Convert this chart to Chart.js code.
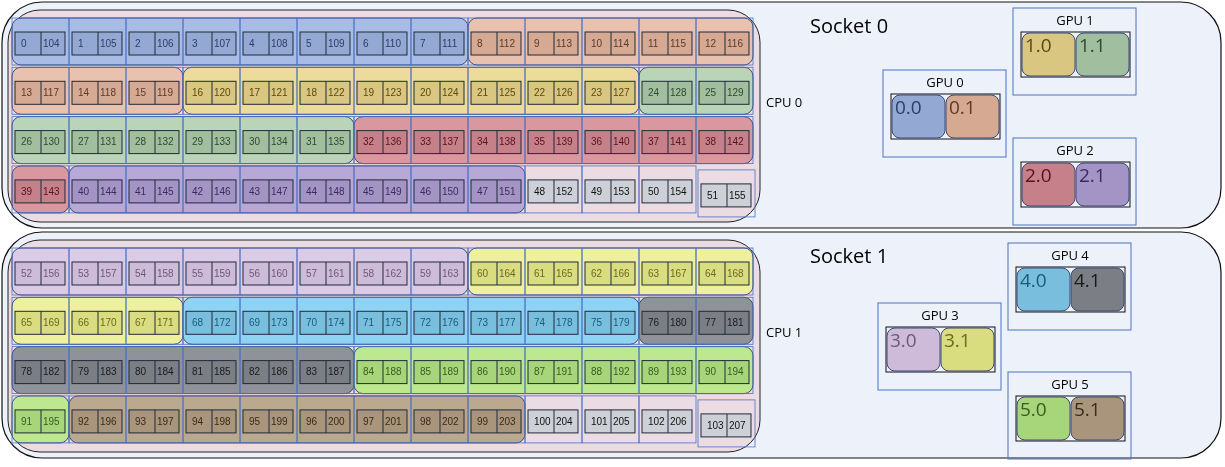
<!DOCTYPE html>
<html><head><meta charset="utf-8">
<script src="https://cdn.jsdelivr.net/npm/chart.js@4"></script>
<style>html,body{margin:0;padding:0;background:#fff}#wrap{width:1225px;height:467px}</style>
</head><body><div id="wrap"><canvas id="c"></canvas></div>
<script>
// Node layout: 2 sockets, 52 cores each (13 per row, 4 rows), hyperthread = core + 104
const sockets = ['Socket 0', 'Socket 1'];
const cpus = ['CPU 0', 'CPU 1'];
const coresPerSocket = 52;
const coresPerRow = 13;
const htOffset = 104;
// core groups (first core, last core) bound to a GCD
const groupFirst = [0, 8, 16, 24, 32, 40, 52, 60, 68, 76, 84, 92];
const groupLast = [7, 15, 23, 31, 39, 47, 59, 67, 75, 83, 91, 99];
const gcdLabels = ['0.0', '0.1', '1.0', '1.1', '2.0', '2.1', '3.0', '3.1', '4.0', '4.1', '5.0', '5.1'];
const groupFill = ['#a9bce6', '#e8c2ae', '#eddb9c', '#b9d4b6', '#d9979f', '#b8a8d8',
                   '#dccbe6', '#eef09d', '#8ed3f1', '#8f9298', '#bde890', '#bba98f'];
const coreFill = ['#93a8d3', '#d5a992', '#d9c680', '#a1bf9f', '#c6808a', '#a493c5',
                  '#cebbd9', '#dadc80', '#79bfdd', '#7b7e85', '#a7d67a', '#a8957c'];
const textCol = ['#2c3d66', '#5a3a2a', '#5a4a10', '#2e4a2c', '#5a1020', '#3c2c5e',
                 '#6a5a7a', '#6a6a20', '#1a5a7a', '#1a1a1a', '#3a5a20', '#3a2a1a'];
const gpuNames = ['GPU 0', 'GPU 1', 'GPU 2', 'GPU 3', 'GPU 4', 'GPU 5'];
const gpuBoxX = [883, 1013, 1013, 878, 1008, 1008];
const gpuBoxY = [70, 8, 138, 303, 243, 372];
const unassignedFill = '#cdd0d6';

function groupOf(core) {
  for (let g = 0; g < groupFirst.length; g++) if (core >= groupFirst[g] && core <= groupLast[g]) return g;
  return -1;
}

const S0 = 2, SH = 230;
function cellRect(core) {
  const s = Math.floor(core / coresPerSocket), i = core % coresPerSocket;
  const col = i % coresPerRow, row = Math.floor(i / coresPerRow);
  return { x: 12 + col * 57, y: S0 + s * SH + 16 + row * 49.3, w: 57, h: 47 };
}

function rr(ctx, x, y, w, h, r) {
  ctx.beginPath(); ctx.roundRect(x, y, w, h, r);
}

const layoutPlugin = {
  id: 'layout',
  afterDatasetsDraw(chart) {
    const ctx = chart.ctx, xs = chart.scales.x, ys = chart.scales.y;
    const X = v => xs.getPixelForValue(v), Y = v => ys.getPixelForValue(v);
    const R = (x, y, w, h) => [X(x), Y(y), X(x + w) - X(x), Y(y + h) - Y(y)];
    ctx.save();
    sockets.forEach((name, s) => {
      const top = S0 + s * SH;
      // socket outline
      let [a, b, w, h] = R(2, top, 1219, 226);
      rr(ctx, a, b, w, h, 40); ctx.fillStyle = '#edf1f9'; ctx.fill();
      ctx.strokeStyle = '#111'; ctx.lineWidth = 1.2; ctx.stroke();
      // cpu box
      [a, b, w, h] = R(8, top + 8, 752, 212);
      rr(ctx, a, b, w, h, 32); ctx.fillStyle = '#ebdbe3'; ctx.fill();
      ctx.strokeStyle = '#222'; ctx.lineWidth = 1; ctx.stroke();
      ctx.fillStyle = '#000'; ctx.textBaseline = 'middle'; ctx.textAlign = 'left';
      ctx.font = '20px "Open Sans", "DejaVu Sans", sans-serif';
      ctx.fillText(name, X(810), Y(top + 25));
      ctx.font = '13px "Open Sans", "DejaVu Sans", sans-serif';
      ctx.fillText(cpus[s], X(766), Y(top + 101));
    });
    // group backgrounds (one rounded rect per row segment)
    groupFirst.forEach((f, g) => {
      let start = f;
      for (let c = f; c <= groupLast[g]; c++) {
        const endRow = c === groupLast[g] || Math.floor(((c + 1) % coresPerSocket) / coresPerRow) !== Math.floor((c % coresPerSocket) / coresPerRow);
        if (endRow) {
          const r0 = cellRect(start), r1 = cellRect(c);
          const [a, b, w, h] = R(r0.x, r0.y, r1.x + r1.w - r0.x, r0.h);
          rr(ctx, a, b, w, h, 9); ctx.fillStyle = groupFill[g]; ctx.fill();
          ctx.strokeStyle = '#3c4a78'; ctx.lineWidth = 1; ctx.stroke();
          start = c + 1;
        }
      }
    });
    // cores
    for (let core = 0; core < coresPerSocket * sockets.length; core++) {
      const g = groupOf(core), r = cellRect(core);
      const last = core % coresPerSocket === coresPerSocket - 1;
      const dy = last ? 4 : 0, dx = last ? 2 : 0;
      let [a, b, w, h] = R(r.x + dx, r.y + dy, r.w, r.h);
      ctx.strokeStyle = '#4a72c4'; ctx.lineWidth = 0.8; ctx.strokeRect(a, b, w, h);
      const px = r.x + 3 + dx, py = r.y + 14 + dy;
      [a, b, w, h] = R(px, py, 50, 23);
      ctx.fillStyle = g < 0 ? unassignedFill : coreFill[g]; ctx.fillRect(a, b, w, h);
      ctx.strokeStyle = '#1f2a3a'; ctx.lineWidth = 1; ctx.strokeRect(a, b, w, h);
      ctx.beginPath(); ctx.moveTo(X(px + 26), b); ctx.lineTo(X(px + 26), b + h); ctx.stroke();
      ctx.fillStyle = g < 0 ? '#111' : textCol[g];
      ctx.font = '10px "Liberation Sans", Arial, sans-serif'; ctx.textAlign = 'left'; ctx.textBaseline = 'middle';
      ctx.fillText(String(core), X(px + 6), Y(py + 12));
      ctx.fillText(String(core + htOffset), X(px + 28), Y(py + 12));
    }
    // GPUs
    gpuNames.forEach((name, i) => {
      let [a, b, w, h] = R(gpuBoxX[i], gpuBoxY[i], 123, 87);
      ctx.strokeStyle = '#4a72c4'; ctx.lineWidth = 1; ctx.strokeRect(a, b, w, h);
      ctx.fillStyle = '#000'; ctx.textAlign = 'center'; ctx.textBaseline = 'middle';
      ctx.font = '13px "Open Sans", "DejaVu Sans", sans-serif';
      ctx.fillText(name, X(gpuBoxX[i] + 62), Y(gpuBoxY[i] + 13));
      const cx = gpuBoxX[i] + 8, cy = gpuBoxY[i] + 24;
      [a, b, w, h] = R(cx, cy, 109, 45);
      ctx.strokeStyle = '#111'; ctx.strokeRect(a, b, w, h);
      for (let k = 0; k < 2; k++) {
        const g = i * 2 + k;
        [a, b, w, h] = R(cx + 1 + k * 54, cy + 1, 53, 43);
        rr(ctx, a, b, w, h, 8); ctx.fillStyle = coreFill[g]; ctx.fill();
        ctx.strokeStyle = '#3c4a78'; ctx.stroke();
        ctx.fillStyle = textCol[g]; ctx.textAlign = 'left';
        ctx.font = '19px "Open Sans", "DejaVu Sans", sans-serif';
        ctx.fillText(gcdLabels[g], X(cx + 4 + k * 54), Y(cy + 15));
      }
    });
    ctx.restore();
  }
};

new Chart(document.getElementById('c'), {
  type: 'scatter',
  data: { datasets: [{ data: [], pointRadius: 0 }] },
  options: {
    responsive: true, maintainAspectRatio: false, animation: false,
    layout: { padding: 0 },
    plugins: { legend: { display: false }, tooltip: { enabled: false } },
    scales: {
      x: { type: 'linear', min: 0, max: 1225, display: false },
      y: { type: 'linear', min: 0, max: 467, reverse: true, display: false }
    }
  },
  plugins: [layoutPlugin]
});
</script></body></html>
